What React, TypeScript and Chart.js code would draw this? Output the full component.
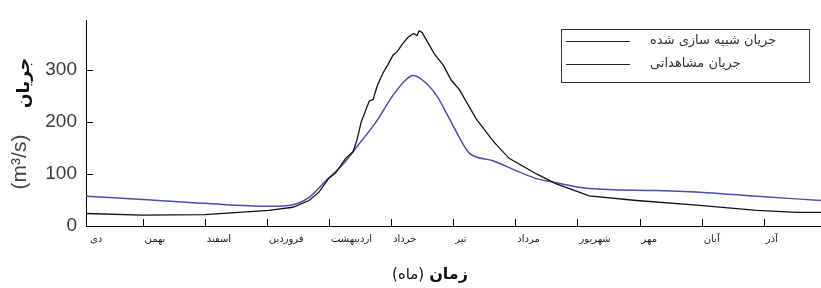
import React, { useEffect, useRef } from "react";
import { Chart, registerables } from "chart.js";

Chart.register(...registerables);

// Month labels (Persian calendar) along the x axis
const months = ["دی", "بهمن", "اسفند", "فروردین", "اردیبهشت", "خرداد", "تیر", "مرداد", "شهریور", "مهر", "آبان", "آذر"];
const yTickValues = [0, 100, 200, 300];

// Simulated flow (blue)
const simX = [0.09, 1.0, 2.06, 3.03, 3.42, 3.68, 3.95, 4.23, 4.48, 4.76, 5.03, 5.24, 5.35, 5.52, 5.73, 5.94, 6.16, 6.26, 6.65, 7.02, 7.34, 7.66, 8.19, 9.27, 10.08, 10.89, 11.92];
const simY = [57, 51, 43, 38, 41, 55, 87, 119, 157, 200, 251, 281, 289, 279, 251, 206, 157, 140, 125, 106, 91, 83, 72, 68, 64, 57, 49];

// Observed flow (black)
const obsX = [0.09, 1.0, 2.0, 3.03, 3.42, 3.68, 3.84, 4.0, 4.11, 4.2, 4.27, 4.39, 4.45, 4.52, 4.6, 4.65, 4.71, 4.78, 4.87, 4.95, 5.03, 5.1, 5.19, 5.27, 5.36, 5.42, 5.45, 5.5, 5.57, 5.7, 5.84, 5.97, 6.1, 6.37, 6.65, 6.9, 7.34, 7.66, 8.19, 8.95, 9.92, 10.89, 11.53, 11.92];
const obsY = [24, 21, 22, 30, 36, 49, 65, 92, 102, 118, 130, 143, 165, 200, 225, 240, 243, 270, 294, 310, 328, 335, 351, 362, 370, 366, 375, 372, 357, 330, 309, 280, 262, 206, 162, 130, 100, 81, 58, 49, 40, 30, 26, 26];

const seriesNames = ["جریان شبیه سازی شده", "جریان مشاهداتی"];
const yTitle = "جریان";
const yUnit = "(m³/s)";
const xTitle = "زمان";
const xUnit = "(ماه)";

const SIM_COLOR = "#4d4dab";
const OBS_COLOR = "#111111";

const decor = {
  id: "decor",
  afterDraw(chart: any) {
    const { ctx, chartArea: a, scales } = chart;
    const x = scales.x;
    const y = scales.y;
    ctx.save();
    ctx.strokeStyle = "#000";
    ctx.lineWidth = 1;
    // inward tick marks on x axis
    ctx.beginPath();
    for (let i = 1; i < months.length; i++) {
      const px = Math.round(x.getPixelForValue(i)) + 0.5;
      if (px > a.right) continue;
      ctx.moveTo(px, a.bottom);
      ctx.lineTo(px, a.bottom - 7);
    }
    // inward tick marks on y axis
    for (const v of yTickValues) {
      if (v === 0) continue;
      const py = Math.round(y.getPixelForValue(v)) + 0.5;
      ctx.moveTo(a.left, py);
      ctx.lineTo(a.left + 7, py);
    }
    ctx.stroke();

    // month labels
    ctx.direction = "rtl";
    ctx.font = '10px "DejaVu Sans"';
    ctx.fillStyle = "#222";
    ctx.textAlign = "left";
    ctx.textBaseline = "middle";
    months.forEach((m, i) => {
      const px = i === 0 ? a.left + 4 : x.getPixelForValue(i) + 2;
      ctx.fillText(m, px, a.bottom + 13);
    });

    // y title (rotated)
    ctx.save();
    ctx.translate(25, 83);
    ctx.rotate(-Math.PI / 2);
    ctx.textAlign = "center";
    ctx.fillStyle = "#111";
    ctx.font = 'bold 17px "DejaVu Sans"';
    ctx.fillText(yTitle, 0, 0);
    ctx.restore();
    ctx.save();
    ctx.translate(20, 162);
    ctx.rotate(-Math.PI / 2);
    ctx.direction = "ltr";
    ctx.textAlign = "center";
    ctx.fillStyle = "#444";
    ctx.font = '21px "Liberation Sans"';
    ctx.fillText(yUnit, 0, 0);
    ctx.restore();

    // x title
    ctx.font = 'bold 16px "DejaVu Sans"';
    const wB = ctx.measureText(xTitle).width;
    ctx.font = '15px "DejaVu Sans"';
    const wR = ctx.measureText(xUnit).width;
    const gap = 5;
    const start = 430 - (wB + gap + wR) / 2;
    ctx.fillStyle = "#111";
    ctx.textAlign = "left";
    ctx.fillText(xUnit, start, 275);
    ctx.font = 'bold 16px "DejaVu Sans"';
    ctx.fillText(xTitle, start + wR + gap, 275);

    // legend
    ctx.strokeStyle = "#333";
    ctx.lineWidth = 1;
    ctx.strokeRect(561.5, 29.5, 248, 53);
    const rows = [41, 64];
    const cols = ["#222", "#222"];
    ctx.font = '13px "DejaVu Sans"';
    ctx.fillStyle = "#333";
    seriesNames.forEach((name, i) => {
      ctx.strokeStyle = cols[i];
      ctx.beginPath();
      ctx.moveTo(566, rows[i] + 0.5);
      ctx.lineTo(630, rows[i] + 0.5);
      ctx.stroke();
      ctx.fillText(name, 650, rows[i]);
    });
    ctx.restore();
  },
};

export default function App() {
  const ref = useRef<HTMLCanvasElement | null>(null);
  useEffect(() => {
    if (!ref.current) return;
    const chart = new Chart(ref.current, {
      type: "line",
      data: {
        datasets: [
          {
            label: seriesNames[1],
            data: obsX.map((v, i) => ({ x: v, y: obsY[i] })),
            borderColor: OBS_COLOR,
            borderWidth: 1.3,
            pointRadius: 0,
            tension: 0,
            fill: false,
          },
          {
            label: seriesNames[0],
            data: simX.map((v, i) => ({ x: v, y: simY[i] })),
            borderColor: SIM_COLOR,
            borderWidth: 1.5,
            pointRadius: 0,
            cubicInterpolationMode: "monotone",
            fill: false,
          },
        ],
      },
      options: {
        responsive: false,
        animation: false,
        devicePixelRatio: 1,
        layout: { padding: { top: 17, right: 0, bottom: 0, left: 0 } },
        plugins: { legend: { display: false }, tooltip: { enabled: false } },
        scales: {
          x: {
            type: "linear",
            min: 0.09,
            max: 11.92,
            ticks: { display: false },
            grid: { display: false, drawTicks: false },
            border: { display: true, color: "#000", width: 1 },
            afterFit: (s: any) => {
              s.height = 62;
            },
          },
          y: {
            type: "linear",
            min: 0,
            max: 395,
            afterBuildTicks: (s: any) => {
              s.ticks = yTickValues.map((v) => ({ value: v }));
            },
            ticks: {
              padding: 9,
              color: "#3a3a3a",
              font: { family: "Liberation Sans", size: 19 },
            },
            grid: { display: false, drawTicks: false },
            border: { display: true, color: "#000", width: 1 },
            afterFit: (s: any) => {
              s.width = 86;
            },
          },
        },
      },
      plugins: [decor],
    });
    return () => chart.destroy();
  }, []);
  return (
    <div style={{ position: "fixed", left: 0, top: 0, width: 821, height: 288, background: "#fff" }}>
      <canvas ref={ref} width={821} height={288} />
    </div>
  );
}
